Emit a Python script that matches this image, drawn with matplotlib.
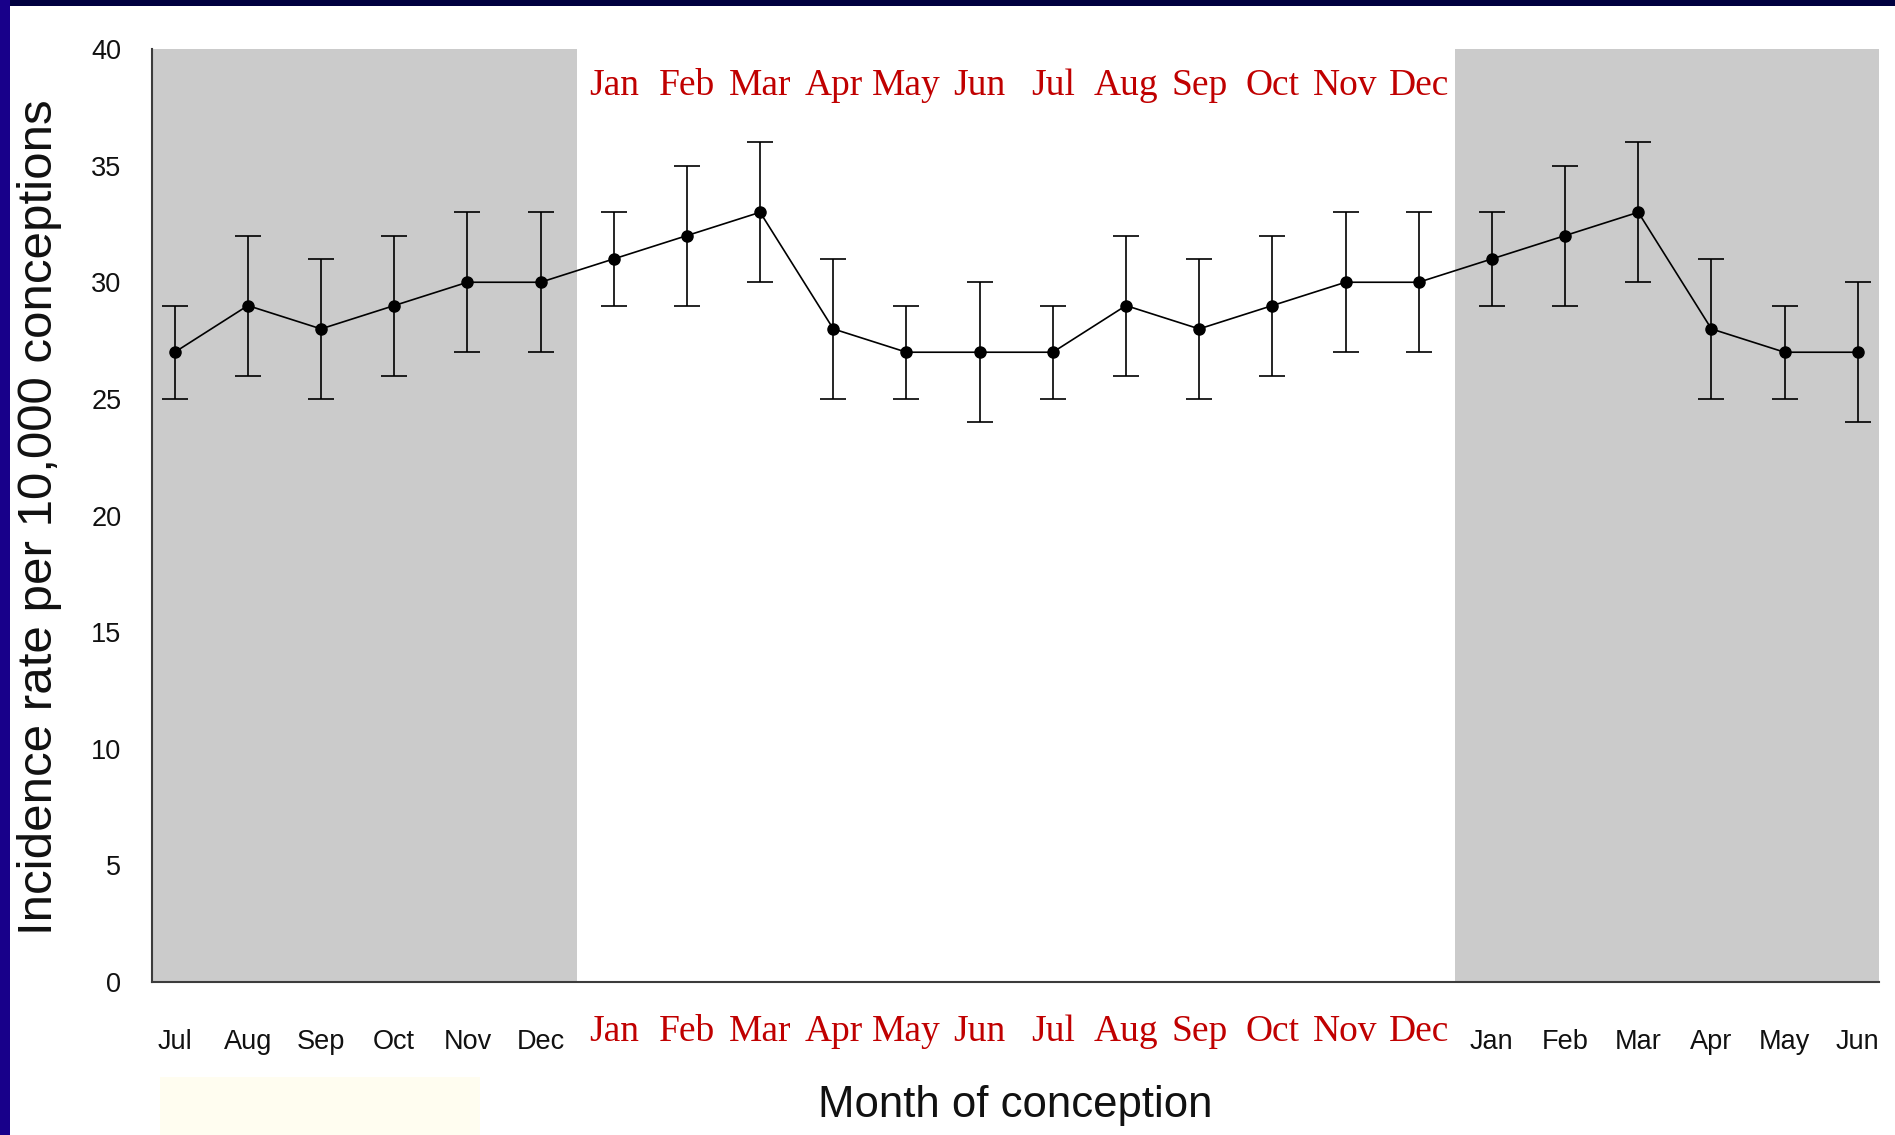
import matplotlib
matplotlib.use("Agg")
import matplotlib.pyplot as plt
import matplotlib.transforms as mtransforms
from matplotlib.patches import Rectangle

months_before = ["Jul", "Aug", "Sep", "Oct", "Nov", "Dec"]
months_year = ["Jan", "Feb", "Mar", "Apr", "May", "Jun",
               "Jul", "Aug", "Sep", "Oct", "Nov", "Dec"]
months_after = ["Jan", "Feb", "Mar", "Apr", "May", "Jun"]

rate = [27, 29, 28, 29, 30, 30, 31, 32, 33, 28, 27, 27,
        27, 29, 28, 29, 30, 30, 31, 32, 33, 28, 27, 27]
lower = [25, 26, 25, 26, 27, 27, 29, 29, 30, 25, 25, 24,
         25, 26, 25, 26, 27, 27, 29, 29, 30, 25, 25, 24]
upper = [29, 32, 31, 32, 33, 33, 33, 35, 36, 31, 29, 30,
         29, 32, 31, 32, 33, 33, 33, 35, 36, 31, 29, 30]

y_ticks = [0, 5, 10, 15, 20, 25, 30, 35, 40]

W, H = 1895, 1135
fig = plt.figure(figsize=(W / 100, H / 100), dpi=100)
fig.patch.set_facecolor("white")

ax = fig.add_axes([152 / W, 1 - 982 / H, (1879 - 152) / W, (982 - 49) / H])
n = len(rate)
x = list(range(n))
xmin, xmax = -0.31, n - 1 + 0.29
ax.set_xlim(xmin, xmax)
ax.set_ylim(0, 40)

ax.axvspan(xmin, len(months_before) - 0.5, color="#cbcbcb", zorder=0, lw=0)
ax.axvspan(len(months_before) + len(months_year) - 0.5, xmax, color="#cbcbcb", zorder=0, lw=0)

yerr = [[r - l for r, l in zip(rate, lower)], [u - r for r, u in zip(rate, upper)]]
ax.errorbar(x, rate, yerr=yerr, color="black", lw=1.2, elinewidth=1.2,
            capsize=9.5, capthick=1.2, marker="o", markersize=8, zorder=3)

for s in ["top", "right"]:
    ax.spines[s].set_visible(False)
for s in ["left", "bottom"]:
    ax.spines[s].set_color("#3c3c3c")
    ax.spines[s].set_linewidth(1.5)

ax.set_yticks(y_ticks)
ax.set_yticklabels([str(v) for v in y_ticks], fontsize=19.5, family="Liberation Sans", color="#111111")
ax.tick_params(axis="y", length=0, pad=22)

tick_labels = months_before + [""] * len(months_year) + months_after
ax.set_xticks(x)
ax.set_xticklabels(tick_labels, fontsize=19.5, family="Liberation Sans", color="#111111")
ax.tick_params(axis="x", length=0, pad=34)

red = "#c00000"
trans = mtransforms.blended_transform_factory(ax.transData, ax.transAxes)
for i, m in enumerate(months_year):
    xi = len(months_before) + i
    ax.text(xi, 1 - (86 - 49) / (982 - 49), m, transform=trans, ha="center", va="center",
            fontsize=27, family="Liberation Serif", color=red, zorder=4)
    ax.text(xi, -(1032 - 982) / (982 - 49), m, transform=trans, ha="center", va="center",
            fontsize=27, family="Liberation Serif", color=red, clip_on=False)

fig.text(40 / W, 1 - 517 / H, "Incidence rate per 10,000 conceptions", rotation=90,
         ha="center", va="center", fontsize=35.5, family="Liberation Sans", color="#111111")
fig.text(1015 / W, 1 - 1106 / H, "Month of conception", ha="center", va="center",
         fontsize=31.5, family="Liberation Sans", color="#111111")

# decorative slide elements
fig.patches.append(Rectangle((160 / W, 0), (480 - 160) / W, (1135 - 1077) / H,
                             transform=fig.transFigure, color="#fffdf0", zorder=0, lw=0))
fig.patches.append(Rectangle((0, 1 - 6 / H), 1, 6 / H, transform=fig.transFigure,
                             color="#000040", zorder=5, lw=0))
fig.patches.append(Rectangle((0, 0), 10 / W, 1, transform=fig.transFigure,
                             color="#18008a", zorder=5, lw=0))

fig.savefig("out.png", dpi=100)
